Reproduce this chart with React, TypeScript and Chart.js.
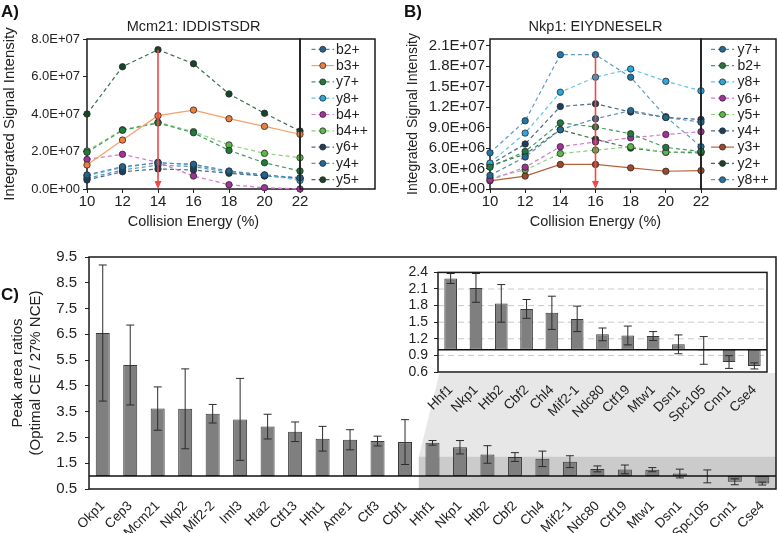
import React, { useEffect, useRef } from 'react';
import { Chart, registerables } from 'chart.js';

Chart.register(...registerables);

const FONT = '"Liberation Sans", Arial, Helvetica, sans-serif';
Chart.defaults.font.family = FONT;
Chart.defaults.color = '#222';

// ---------- shared x values (collision energy, %) ----------
const energies = [10, 12, 14, 16, 18, 20, 22];

// ---------- Panel A : Mcm21 IDDISTSDR ----------
const aTitle = 'Mcm21: IDDISTSDR';
const aB2 = [0.75e7, 1.19e7, 1.39e7, 1.32e7, 0.96e7, 0.75e7, 0.6e7];
const aB3 = [1.28e7, 2.61e7, 3.91e7, 4.21e7, 3.75e7, 3.34e7, 2.92e7];
const aY7 = [1.96e7, 3.13e7, 3.52e7, 3.0e7, 2.06e7, 1.4e7, 0.96e7];
const aY8 = [0.71e7, 1.14e7, 1.42e7, 1.28e7, 0.92e7, 0.75e7, 0.46e7];
const aB4 = [1.58e7, 1.85e7, 1.42e7, 0.69e7, 0.23e7, 0.07e7, 0.0];
const aB4pp = [2.03e7, 3.16e7, 3.56e7, 3.06e7, 2.35e7, 1.9e7, 1.67e7];
const aY6 = [0.48e7, 0.92e7, 1.07e7, 1.01e7, 0.84e7, 0.69e7, 0.57e7];
const aY4 = [0.57e7, 1.01e7, 1.28e7, 1.19e7, 0.89e7, 0.71e7, 0.57e7];
const aY5 = [4.0e7, 6.52e7, 7.43e7, 6.68e7, 5.07e7, 4.04e7, 3.09e7];
const aYTicks = [0, 2e7, 4e7, 6e7, 8e7];
const aArrowEnergy = 14;

// ---------- Panel B : Nkp1 EIYDNESELR ----------
const bTitle = 'Nkp1: EIYDNESELR';
const bY7 = [2.0e6, 4.7e6, 8.7e6, 1.03e7, 1.15e7, 1.05e7, 9.8e6];
const bB2 = [3.2e6, 5.5e6, 9.7e6, 9.1e6, 8.1e6, 6.1e6, 5.5e6];
const bY8 = [3.8e6, 8.2e6, 1.42e7, 1.64e7, 1.76e7, 1.58e7, 1.44e7];
const bY6 = [1.3e6, 3.2e6, 6.2e6, 6.9e6, 7.5e6, 8.0e6, 8.4e6];
const bY5 = [1.6e6, 2.8e6, 5.2e6, 5.7e6, 6.2e6, 5.4e6, 5.5e6];
const bY4 = [3.6e6, 6.6e6, 1.21e7, 1.25e7, 1.13e7, 1.05e7, 1.02e7];
const bY3 = [1.2e6, 1.9e6, 3.6e6, 3.6e6, 3.1e6, 2.6e6, 2.7e6];
const bY2 = [3.4e6, 5.1e6, 8.7e6, 7.3e6, 6.0e6, 5.4e6, 5.3e6];
const bY8pp = [5.3e6, 1.0e7, 1.97e7, 1.97e7, 1.64e7, 1.06e7, 6.2e6];
const bYTicks = [0, 3e6, 6e6, 9e6, 1.2e7, 1.5e7, 1.8e7, 2.1e7];
const bArrowEnergy = 16;

// ---------- Panel C : peak area ratios ----------
const cMainNames = ['Okp1', 'Cep3', 'Mcm21', 'Nkp2', 'Mif2-2', 'Iml3', 'Hta2', 'Ctf13', 'Hht1', 'Ame1', 'Ctf3', 'Cbf1'];
const cMainValues = [6.55, 5.31, 3.62, 3.61, 3.42, 3.2, 2.92, 2.72, 2.45, 2.41, 2.36, 2.32];
const cMainErrors = [2.64, 1.55, 0.84, 1.55, 0.36, 1.59, 0.48, 0.38, 0.48, 0.39, 0.19, 0.87];
const cInsetNames = ['Hhf1', 'Nkp1', 'Htb2', 'Cbf2', 'Chl4', 'Mif2-1', 'Ndc80', 'Ctf19', 'Mtw1', 'Dsn1', 'Spc105', 'Cnn1', 'Cse4'];
const cInsetValues = [2.29, 2.12, 1.84, 1.74, 1.67, 1.56, 1.28, 1.26, 1.25, 1.1, 0.99, 0.78, 0.71];
const cInsetErrors = [0.09, 0.26, 0.34, 0.17, 0.3, 0.23, 0.115, 0.17, 0.08, 0.17, 0.25, 0.115, 0.055];
const cYTicks = [0.5, 1.5, 2.5, 3.5, 4.5, 5.5, 6.5, 7.5, 8.5, 9.5];
const cInsetTicks = [0.6, 0.9, 1.2, 1.5, 1.8, 2.1, 2.4];
const cBaseline = 1;

// ---------- styles ----------
type Series = { name: string; values: number[]; marker: string; line: string; solid?: boolean };

const aSeries: Series[] = [
  { name: 'b2+', values: aB2, marker: '#23648f', line: '#4f86b0' },
  { name: 'b3+', values: aB3, marker: '#f07f3c', line: '#f5a06a', solid: true },
  { name: 'y7+', values: aY7, marker: '#1f7a3f', line: '#449c5e' },
  { name: 'y8+', values: aY8, marker: '#2ca7df', line: '#62c3ea' },
  { name: 'b4+', values: aB4, marker: '#a4309a', line: '#d27ad0' },
  { name: 'b4++', values: aB4pp, marker: '#5cb84a', line: '#8ad27a' },
  { name: 'y6+', values: aY6, marker: '#1d3f5e', line: '#4a6a88' },
  { name: 'y4+', values: aY4, marker: '#1c6d9c', line: '#5a92b8' },
  { name: 'y5+', values: aY5, marker: '#17452a', line: '#3d6e4d' },
];

const bSeries: Series[] = [
  { name: 'y7+', values: bY7, marker: '#236a93', line: '#5a8fb3' },
  { name: 'b2+', values: bB2, marker: '#1f7a3f', line: '#449c5e' },
  { name: 'y8+', values: bY8, marker: '#2ca7df', line: '#62c3ea' },
  { name: 'y6+', values: bY6, marker: '#a4309a', line: '#d27ad0' },
  { name: 'y5+', values: bY5, marker: '#5cb84a', line: '#8ad27a' },
  { name: 'y4+', values: bY4, marker: '#1d3f5e', line: '#4a6a88' },
  { name: 'y3+', values: bY3, marker: '#a0492a', line: '#b5623e', solid: true },
  { name: 'y2+', values: bY2, marker: '#17452a', line: '#3d6e4d' },
  { name: 'y8++', values: bY8pp, marker: '#1f77a8', line: '#5f9cc4' },
];

const sci = (v: number) => {
  if (v === 0) return '0.0E+00';
  const e = Math.floor(Math.log10(v) + 1e-9);
  const m = v / Math.pow(10, e);
  return `${m.toFixed(1)}E+${String(e).padStart(2, '0')}`;
};

// ---------- plugins ----------
const framePlugin = (when: 'before' | 'after') => ({
  id: 'frame' + when,
  [when === 'before' ? 'beforeDatasetsDraw' : 'afterDatasetsDraw'](chart: any) {
    const { ctx, chartArea: a } = chart;
    ctx.save();
    ctx.strokeStyle = '#1a1a1a';
    ctx.lineWidth = 1.5;
    ctx.setLineDash([]);
    ctx.strokeRect(a.left, a.top, a.right - a.left, a.bottom - a.top);
    ctx.restore();
  },
});

const titlePlugin = (text: string, size: number) => ({
  id: 'ttl',
  afterDraw(chart: any) {
    const { ctx, chartArea: a } = chart;
    ctx.save();
    ctx.font = `${size}px ${FONT}`;
    ctx.fillStyle = '#222';
    ctx.textAlign = 'center';
    ctx.textBaseline = 'middle';
    ctx.fillText(text, (a.left + a.right) / 2, a.top - 12);
    ctx.restore();
  },
});

const legendPlugin = (o: { width: number; first: number; step: number; l0: number; l1: number; text: number }) => ({
  id: 'lg',
  afterDraw(chart: any) {
    const { ctx, chartArea: a } = chart;
    const x0 = a.right;
    ctx.save();
    ctx.strokeStyle = '#1a1a1a';
    ctx.lineWidth = 1.5;
    ctx.strokeRect(x0, a.top, o.width, a.bottom - a.top);
    chart.data.datasets.forEach((ds: any, i: number) => {
      const y = a.top + o.first + i * o.step;
      ctx.setLineDash(ds.borderDash);
      ctx.strokeStyle = ds.borderColor;
      ctx.lineWidth = 1.2;
      ctx.beginPath();
      ctx.moveTo(x0 + o.l0, y);
      ctx.lineTo(x0 + o.l1, y);
      ctx.stroke();
      ctx.setLineDash([]);
      ctx.beginPath();
      ctx.arc(x0 + (o.l0 + o.l1) / 2, y, 3, 0, Math.PI * 2);
      ctx.fillStyle = ds.pointBackgroundColor;
      ctx.fill();
      ctx.strokeStyle = '#2a2a2a';
      ctx.lineWidth = 0.8;
      ctx.stroke();
      ctx.fillStyle = '#222';
      ctx.font = `14px ${FONT}`;
      ctx.textAlign = 'left';
      ctx.textBaseline = 'middle';
      ctx.fillText(ds.label, x0 + o.text, y + 0.5);
    });
    ctx.restore();
  },
});

const arrowPlugin = (energy: number) => ({
  id: 'arrow',
  afterDatasetsDraw(chart: any) {
    const { ctx } = chart;
    const xs = chart.scales.x;
    const ys = chart.scales.y;
    const idx = energies.indexOf(energy);
    const top = Math.max(...chart.data.datasets.map((d: any) => d.data[idx].y));
    const x = xs.getPixelForValue(energy);
    const y0 = ys.getPixelForValue(top);
    const y1 = ys.getPixelForValue(0);
    ctx.save();
    ctx.strokeStyle = '#f04848';
    ctx.fillStyle = '#f04848';
    ctx.lineWidth = 1.6;
    ctx.beginPath();
    ctx.moveTo(x, y0);
    ctx.lineTo(x, y1 - 6);
    ctx.stroke();
    ctx.beginPath();
    ctx.moveTo(x - 3.5, y1 - 8);
    ctx.lineTo(x + 3.5, y1 - 8);
    ctx.lineTo(x, y1);
    ctx.closePath();
    ctx.fill();
    ctx.restore();
  },
});

const errorBarPlugin = (values: number[], errors: number[], cap: number) => ({
  id: 'err',
  afterDatasetsDraw(chart: any) {
    const { ctx } = chart;
    const ys = chart.scales.y;
    const meta = chart.getDatasetMeta(0);
    ctx.save();
    ctx.strokeStyle = '#2b2b2b';
    ctx.lineWidth = 1;
    meta.data.forEach((bar: any, i: number) => {
      const x = bar.x;
      const yh = ys.getPixelForValue(values[i] + errors[i]);
      const yl = ys.getPixelForValue(values[i] - errors[i]);
      ctx.beginPath();
      ctx.moveTo(x, yh);
      ctx.lineTo(x, yl);
      ctx.moveTo(x - cap, yh);
      ctx.lineTo(x + cap, yh);
      ctx.moveTo(x - cap, yl);
      ctx.lineTo(x + cap, yl);
      ctx.stroke();
    });
    ctx.restore();
  },
});

const baselinePlugin = {
  id: 'base1',
  afterDatasetsDraw(chart: any) {
    const { ctx, chartArea: a } = chart;
    const y = chart.scales.y.getPixelForValue(cBaseline);
    ctx.save();
    ctx.strokeStyle = '#111';
    ctx.lineWidth = 1.5;
    ctx.beginPath();
    ctx.moveTo(a.left, y);
    ctx.lineTo(a.right, y);
    ctx.stroke();
    ctx.restore();
  },
};

// shaded "zoom" region linking main panel to inset
const SHADE_BAND_TOP = 1.76;
const SHADE_TOP = 5.04;
const SHADE_SLANT = 21;
const shadePlugin = {
  id: 'shade',
  beforeDatasetsDraw(chart: any) {
    const { ctx, chartArea: a } = chart;
    const xs = chart.scales.x;
    const ys = chart.scales.y;
    const step = xs.getPixelForValue(1) - xs.getPixelForValue(0);
    const xl = xs.getPixelForValue(cMainNames.length) - step / 2;
    const xr = a.right;
    const yb = ys.getPixelForValue(SHADE_BAND_TOP);
    const yt = ys.getPixelForValue(SHADE_TOP);
    ctx.save();
    ctx.fillStyle = '#e7e7e7';
    ctx.beginPath();
    ctx.moveTo(xl, yb);
    ctx.lineTo(xr, yb);
    ctx.lineTo(xr, yt);
    ctx.lineTo(xl + SHADE_SLANT, yt);
    ctx.closePath();
    ctx.fill();
    ctx.fillStyle = '#cbcbcb';
    ctx.fillRect(xl, yb, xr - xl, a.bottom - yb);
    ctx.restore();
  },
};

const whiteBgPlugin = {
  id: 'white',
  beforeDraw(chart: any) {
    const { ctx, chartArea: a } = chart;
    ctx.save();
    ctx.fillStyle = '#ffffff';
    ctx.fillRect(0, 0, chart.width, a.bottom + 1);
    ctx.restore();
  },
};

const insetGridPlugin = {
  id: 'igrid',
  beforeDatasetsDraw(chart: any) {
    const { ctx, chartArea: a } = chart;
    const ys = chart.scales.y;
    ctx.save();
    ctx.strokeStyle = '#c9c9c9';
    ctx.lineWidth = 1;
    ctx.setLineDash([6, 4]);
    cInsetTicks.slice(1, -1).forEach((v) => {
      const y = ys.getPixelForValue(v);
      ctx.beginPath();
      ctx.moveTo(a.left, y);
      ctx.lineTo(a.right, y);
      ctx.stroke();
    });
    ctx.restore();
  },
};

// ---------- configs ----------
const setTicks = (vals: number[]) => (scale: any) => {
  scale.ticks = vals.map((v) => ({ value: v }));
};

function lineConfig(p: {
  series: Series[];
  yMax: number;
  yTicks: number[];
  yTickSize: number;
  yTitleSize: number;
  yTitlePad: number;
  yWidth: number;
  padRight: number;
  title: string;
  arrow: number;
  legend: { width: number; first: number; step: number; l0: number; l1: number; text: number };
}): any {
  return {
    type: 'line',
    data: {
      datasets: p.series.map((s) => ({
        label: s.name,
        data: energies.map((x, i) => ({ x, y: s.values[i] })),
        borderColor: s.line,
        backgroundColor: s.marker,
        pointBackgroundColor: s.marker,
        pointBorderColor: '#2a2a2a',
        pointBorderWidth: 0.8,
        pointRadius: 3.2,
        borderWidth: 1.2,
        borderDash: s.solid ? [] : [4, 3],
        tension: 0,
        clip: false,
      })),
    },
    options: {
      responsive: false,
      animation: false,
      devicePixelRatio: 1,
      layout: { padding: { top: 39, right: p.padRight, left: 0, bottom: 0 } },
      plugins: { legend: { display: false }, tooltip: { enabled: false }, title: { display: false } },
      scales: {
        x: {
          type: 'linear',
          min: 10,
          max: 22,
          afterBuildTicks: setTicks(energies),
          afterFit: (s: any) => {
            s.height = 46;
          },
          grid: { display: true, drawOnChartArea: false, drawTicks: true, tickLength: 4, color: '#222' },
          border: { display: false },
          ticks: { font: { size: 15 }, color: '#222', padding: 0, maxRotation: 0, autoSkip: false },
          title: { display: true, text: 'Collision Energy (%)', font: { size: 14.5 }, color: '#222', padding: { top: 0, bottom: 4 } },
        },
        y: {
          type: 'linear',
          min: 0,
          max: p.yMax,
          afterBuildTicks: setTicks(p.yTicks),
          afterFit: (s: any) => {
            s.width = p.yWidth;
          },
          grid: { display: true, drawOnChartArea: false, drawTicks: true, tickLength: 4, color: '#222' },
          border: { display: false },
          ticks: {
            font: { size: p.yTickSize },
            color: '#222',
            padding: p.yTickSize === 13 ? 3 : 1,
            autoSkip: false,
            callback: (v: any) => sci(Number(v)),
          },
          title: { display: true, text: 'Integrated Signal Intensity', font: { size: p.yTitleSize }, color: '#222', padding: { top: p.yTitlePad, bottom: 0 } },
        },
      },
    },
    plugins: [framePlugin('before'), arrowPlugin(p.arrow), titlePlugin(p.title, 14.5), legendPlugin(p.legend)],
  };
}

const makeA = () =>
  lineConfig({
    series: aSeries,
    yMax: 8e7,
    yTicks: aYTicks,
    yTickSize: 13,
    yTitleSize: 15,
    yTitlePad: 1,
    yWidth: 87,
    padRight: 80,
    title: aTitle,
    arrow: aArrowEnergy,
    legend: { width: 75, first: 10.3, step: 16.3, l0: 11.5, l1: 34, text: 36 },
  });

const makeB = () =>
  lineConfig({
    series: bSeries,
    yMax: 2.2e7,
    yTicks: bYTicks,
    yTickSize: 15,
    yTitleSize: 14,
    yTitlePad: 14.5,
    yWidth: 100,
    padRight: 77,
    title: bTitle,
    arrow: bArrowEnergy,
    legend: { width: 75, first: 10.3, step: 16.3, l0: 10, l1: 33, text: 36.5 },
  });

const barStyle = {
  backgroundColor: '#7f7f7f',
  borderColor: '#3a3a3a',
  borderWidth: 1,
  borderSkipped: false,
  categoryPercentage: 1,
};

const makeC = (): any => {
  const names = cMainNames.concat(cInsetNames);
  const values = cMainValues.concat(cInsetValues);
  const errors = cMainErrors.concat(cInsetErrors);
  return {
    type: 'bar',
    data: {
      labels: names,
      datasets: [{ data: values.map((v) => [cBaseline, v]), ...barStyle, barPercentage: 0.51 }],
    },
    options: {
      responsive: false,
      animation: false,
      devicePixelRatio: 1,
      layout: { padding: { top: 16, right: 2, left: 0, bottom: 0 } },
      plugins: { legend: { display: false }, tooltip: { enabled: false } },
      scales: {
        x: {
          afterFit: (s: any) => {
            s.height = 44;
          },
          grid: { display: false },
          border: { display: false },
          ticks: { autoSkip: false, maxRotation: 45, minRotation: 45, font: { size: 13.5 }, color: '#222', padding: 1 },
        },
        y: {
          min: 0.5,
          max: 9.5,
          afterBuildTicks: setTicks(cYTicks),
          afterFit: (s: any) => {
            s.width = 89;
          },
          grid: { display: true, drawOnChartArea: false, drawTicks: true, tickLength: 4, color: '#222' },
          border: { display: false },
          ticks: { font: { size: 15 }, color: '#222', padding: 8, autoSkip: false, callback: (v: any) => Number(v).toFixed(1) },
          title: {
            display: true,
            text: ['Peak area ratios', '(Optimal CE / 27% NCE)'],
            font: { size: 15 },
            color: '#222',
            padding: { top: 9, bottom: 0 },
          },
        },
      },
    },
    plugins: [shadePlugin, errorBarPlugin(values, errors, 4), baselinePlugin, framePlugin('after')],
  };
};

const makeInset = (): any => ({
  type: 'bar',
  data: {
    labels: cInsetNames,
    datasets: [{ data: cInsetValues.map((v) => [cBaseline, v]), ...barStyle, barPercentage: 0.5 }],
  },
  options: {
    responsive: false,
    animation: false,
    devicePixelRatio: 1,
    layout: { padding: { top: 9, right: 8, left: 0, bottom: 0 } },
    plugins: { legend: { display: false }, tooltip: { enabled: false } },
    scales: {
      x: {
        afterFit: (s: any) => {
          s.height = 50;
        },
        grid: { display: false },
        border: { display: false },
        ticks: { autoSkip: false, maxRotation: 45, minRotation: 45, font: { size: 13.5 }, color: '#222', padding: 2 },
      },
      y: {
        min: 0.6,
        max: 2.4,
        afterBuildTicks: setTicks(cInsetTicks),
        afterFit: (s: any) => {
          s.width = 38;
        },
        grid: { display: true, drawOnChartArea: false, drawTicks: true, tickLength: 4, color: '#222' },
        border: { display: false },
        ticks: { font: { size: 14 }, color: '#222', padding: 6, autoSkip: false, callback: (v: any) => Number(v).toFixed(1) },
      },
    },
  },
  plugins: [whiteBgPlugin, insetGridPlugin, errorBarPlugin(cInsetValues, cInsetErrors, 4), baselinePlugin, framePlugin('after')],
});

// ---------- components ----------
function ChartCanvas({ make, left, top, width, height }: { make: () => any; left: number; top: number; width: number; height: number }) {
  const ref = useRef<HTMLCanvasElement>(null);
  useEffect(() => {
    const chart = new Chart(ref.current as HTMLCanvasElement, make());
    return () => chart.destroy();
  }, []);
  return (
    <canvas
      ref={ref}
      width={width}
      height={height}
      style={{ position: 'absolute', left, top, width, height, display: 'block' }}
    />
  );
}

const labelStyle = (left: number, top: number): React.CSSProperties => ({
  position: 'absolute',
  left,
  top,
  fontFamily: FONT,
  fontWeight: 'bold',
  fontSize: 17,
  lineHeight: '20px',
  color: '#111',
});

export default function App() {
  return (
    <div style={{ position: 'absolute', left: 0, top: 0, width: 778, height: 533, background: '#fff', overflow: 'hidden' }}>
      <ChartCanvas make={makeA} left={0} top={0} width={380} height={235} />
      <ChartCanvas make={makeB} left={390} top={0} width={388} height={235} />
      <ChartCanvas make={makeC} left={0} top={240} width={778} height={293} />
      <ChartCanvas make={makeInset} left={400} top={258} width={375} height={164} />
      <div style={labelStyle(1, 2)}>A)</div>
      <div style={labelStyle(404, 2)}>B)</div>
      <div style={labelStyle(1, 285)}>C)</div>
    </div>
  );
}
